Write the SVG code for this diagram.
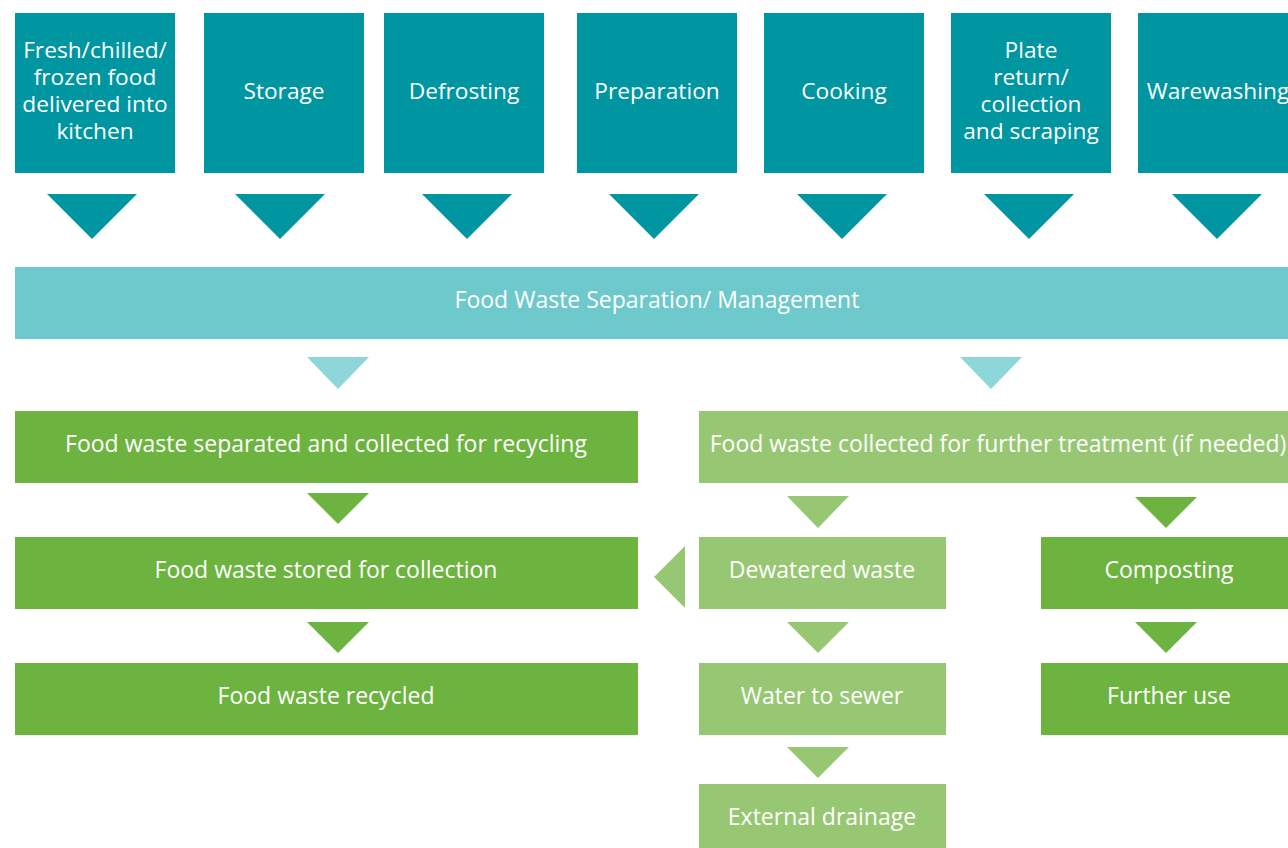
<svg xmlns="http://www.w3.org/2000/svg" width="1288" height="848" viewBox="0 0 1288 848">
<style>
.teal{fill:#0096a1}
.band{fill:#6dc9cb}
.ltri{fill:#8dd6d9}
.dg{fill:#6db33f}
.lg{fill:#98c774}
text{font-family:"Open Sans","Noto Sans",sans-serif;font-size:23px;fill:#ffffff;text-anchor:middle}
text.t{font-size:22.7px}
</style>
<rect width="1288" height="848" fill="#ffffff"/>
<g id="n1"><rect class="teal" x="15" y="13" width="160" height="160"/><text class="t" x="95" y="58">Fresh/chilled/</text><text class="t" x="95" y="85">frozen food</text><text class="t" x="95" y="112">delivered into</text><text class="t" x="95" y="139">kitchen</text></g>
<g id="n2"><rect class="teal" x="204" y="13" width="160" height="160"/><text class="t" x="284" y="99">Storage</text></g>
<g id="n3"><rect class="teal" x="384" y="13" width="160" height="160"/><text class="t" x="464" y="99">Defrosting</text></g>
<g id="n4"><rect class="teal" x="577" y="13" width="160" height="160"/><text class="t" x="657" y="99">Preparation</text></g>
<g id="n5"><rect class="teal" x="764" y="13" width="160" height="160"/><text class="t" x="844" y="99">Cooking</text></g>
<g id="n6"><rect class="teal" x="951" y="13" width="160" height="160"/><text class="t" x="1031" y="58">Plate</text><text class="t" x="1031" y="85">return/</text><text class="t" x="1031" y="112">collection</text><text class="t" x="1031" y="139">and scraping</text></g>
<g id="n7"><rect class="teal" x="1138" y="13" width="160" height="160"/><text class="t" x="1218" y="99">Warewashing</text></g>
<g id="band"><rect class="band" x="15" y="267" width="1283" height="72"/><text x="657" y="308">Food Waste Separation/ Management</text></g>
<g id="recycle"><rect class="dg" x="15" y="411" width="623" height="72"/><text x="326" y="452">Food waste separated and collected for recycling</text></g>
<g id="treat"><rect class="lg" x="699" y="411" width="599" height="72"/><text x="998" y="452">Food waste collected for further treatment (if needed)</text></g>
<g id="stored"><rect class="dg" x="15" y="537" width="623" height="72"/><text x="326" y="578">Food waste stored for collection</text></g>
<g id="recycled"><rect class="dg" x="15" y="663" width="623" height="72"/><text x="326" y="704">Food waste recycled</text></g>
<g id="dewatered"><rect class="lg" x="699" y="537" width="247" height="72"/><text x="822" y="578">Dewatered waste</text></g>
<g id="sewer"><rect class="lg" x="699" y="663" width="247" height="72"/><text x="822" y="704">Water to sewer</text></g>
<g id="drainage"><rect class="lg" x="699" y="784" width="247" height="72"/><text x="822" y="825">External drainage</text></g>
<g id="composting"><rect class="dg" x="1041" y="537" width="257" height="72"/><text x="1169" y="578">Composting</text></g>
<g id="further"><rect class="dg" x="1041" y="663" width="257" height="72"/><text x="1169" y="704">Further use</text></g>
<g id="connectors">
<polygon class="teal" points="47,194 137,194 92,239"/>
<polygon class="teal" points="235,194 325,194 280,239"/>
<polygon class="teal" points="422,194 512,194 467,239"/>
<polygon class="teal" points="609,194 699,194 654,239"/>
<polygon class="teal" points="797,194 887,194 842,239"/>
<polygon class="teal" points="984,194 1074,194 1029,239"/>
<polygon class="teal" points="1172,194 1262,194 1217,239"/>
<polygon class="ltri" points="307,357 369,357 338,389"/>
<polygon class="ltri" points="960,357 1022,357 991,389"/>
<polygon class="dg" points="307,493 369,493 338,524"/>
<polygon class="dg" points="307,622 369,622 338,653"/>
<polygon class="lg" points="787,496 849,496 818,528"/>
<polygon class="lg" points="787,622 849,622 818,653"/>
<polygon class="lg" points="787,747 849,747 818,778"/>
<polygon class="dg" points="1135,497 1197,497 1166,528"/>
<polygon class="dg" points="1135,622 1197,622 1166,653"/>
<polygon class="lg" points="685,546 685,608 654,577"/>
</g>
</svg>
